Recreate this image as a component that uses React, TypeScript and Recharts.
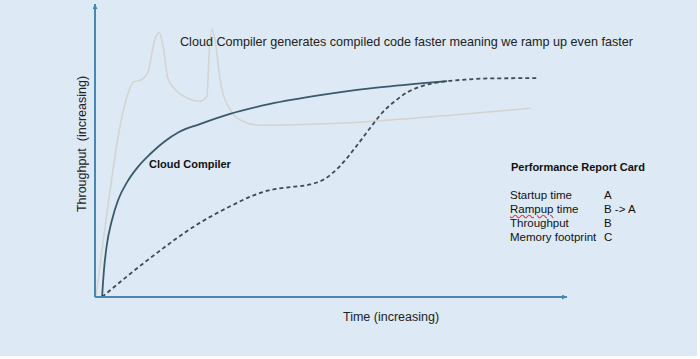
import { LineChart, Line, XAxis, YAxis } from "recharts";

// time / throughput are in % of the drawn axis length
const cloudTime = [1.5, 1.9, 2.5, 3.6, 4.9, 6.8, 9.1, 11.7, 14.6, 17.8, 22.2, 28.6, 37.1, 47.7, 58.3, 68.9, 74.6];
const cloudThroughput = [0, 9.2, 17.7, 26.3, 33.1, 39.2, 44.4, 48.8, 52.9, 56.3, 59.0, 62.5, 65.9, 68.9, 71.2, 72.9, 73.7];

const jitTime = [1.5, 11.7, 22.2, 29.2, 33.3, 37.1, 41.3, 45.6, 48.7, 51.9, 55.1, 58.3, 60.8, 63.6, 66.3, 69.3, 73.7, 78.4, 83.7, 93.6];
const jitThroughput = [0, 13.3, 25.3, 31.4, 34.5, 36.5, 37.5, 38.4, 40.3, 44.7, 50.9, 57.7, 62.8, 66.9, 70.0, 72.0, 73.5, 74.2, 74.6, 74.7];

const greyTime = [0.2, 3.2, 4.9, 6.8, 8.1, 10.0, 11.2, 12.7, 13.6, 14.4, 15.5, 17.4, 20.1, 22.2, 23.7, 24.2, 24.8, 25.4, 26.5, 28.6, 31.4, 35.0, 58.3, 77.3, 92.2];
const greyThroughput = [0, 36.5, 54.8, 68.5, 73.3, 74.3, 76.7, 88.0, 90.4, 85.6, 74.3, 70.2, 67.5, 66.8, 68.5, 83.6, 91.4, 88.0, 74.3, 64.0, 59.9, 58.6, 59.9, 62.3, 64.4];

const reportLabels = ["Startup time", "Rampup time", "Throughput", "Memory footprint"];
const reportGrades = ["A", "B -> A", "B", "C"];

const zip = (t: number[], v: number[]) => t.map((x, i) => ({ t: x, v: v[i] }));

const AXIS = "#4a86b2";
const FONT = "'Liberation Sans', Arial, sans-serif";

export default function App() {
  const cloud = zip(cloudTime, cloudThroughput);
  const jit = zip(jitTime, jitThroughput);
  const grey = zip(greyTime, greyThroughput);

  return (
    <div style={{ position: "absolute", left: 0, top: 0, width: 700, height: 359, background: "#fff", fontFamily: FONT }}>
      <div style={{ position: "absolute", left: 0, top: 0, width: 697, height: 356, background: "#dde9f5" }} />
      <svg width={0} height={0} style={{ position: "absolute" }}>
        <defs>
          <marker id="axisArrow" viewBox="0 0 10 10" refX={10} refY={5} markerWidth={5} markerHeight={5}
            markerUnits="userSpaceOnUse" orient="auto-start-reverse">
            <path d="M0,0 L10,5 L0,10 z" fill={AXIS} />
          </marker>
        </defs>
      </svg>
      <div style={{ position: "absolute", left: 0, top: 0 }}>
        <LineChart width={700} height={359} margin={{ top: 4, right: 133, bottom: 32, left: 35 }}>
          <XAxis type="number" dataKey="t" domain={[0, 100]} height={30} tick={false} tickLine={false}
            axisLine={{ stroke: AXIS, strokeWidth: 2, markerEnd: "url(#axisArrow)" }} />
          <YAxis type="number" dataKey="v" domain={[0, 100]} width={60} tick={false} tickLine={false}
            axisLine={{ stroke: AXIS, strokeWidth: 2, markerStart: "url(#axisArrow)" }} />
          <Line data={grey} dataKey="v" type="monotone" stroke="#d3d3d0" strokeWidth={1.5} dot={false} isAnimationActive={false} />
          <Line data={cloud} dataKey="v" type="monotone" stroke="#3a5a6a" strokeWidth={1.8} dot={false} isAnimationActive={false} />
          <Line data={jit} dataKey="v" type="monotone" stroke="#3d4a52" strokeWidth={1.8} strokeDasharray="4 3" dot={false} isAnimationActive={false} />
        </LineChart>
      </div>

      <div style={{ position: "absolute", left: 180, top: 34, fontSize: 12.6, lineHeight: "16px", color: "#222", whiteSpace: "nowrap" }}>
        Cloud Compiler generates compiled code faster meaning we ramp up even faster
      </div>
      <div style={{ position: "absolute", left: 149, top: 157, fontSize: 11, lineHeight: "14px", fontWeight: 700, color: "#111" }}>
        Cloud Compiler
      </div>
      <div style={{ position: "absolute", left: 511, top: 160, fontSize: 11, lineHeight: "14px", fontWeight: 700, color: "#111", whiteSpace: "nowrap" }}>
        Performance Report Card
      </div>
      {reportLabels.map((label, i) => (
        <div key={label} style={{ position: "absolute", left: 510, top: 188 + i * 14, fontSize: 11.5, lineHeight: "14px", color: "#111", whiteSpace: "nowrap" }}>
          <span style={{ textDecoration: label === "Rampup time" ? "underline wavy #d64545" : "none" }}>
            {label === "Rampup time" ? "Rampup" : label}
          </span>
          {label === "Rampup time" ? " time" : ""}
          <span style={{ position: "absolute", left: 94 }}>{reportGrades[i]}</span>
        </div>
      ))}
      <div style={{ position: "absolute", left: 343, top: 309, fontSize: 12.5, lineHeight: "16px", color: "#222", whiteSpace: "nowrap" }}>
        Time (increasing)
      </div>
      <div style={{ position: "absolute", left: 82, top: 144, fontSize: 12.5, lineHeight: "16px", color: "#222", whiteSpace: "pre",
        transform: "translate(-50%, -50%) rotate(-90deg)" }}>
        {"Throughput  (increasing)"}
      </div>
    </div>
  );
}
